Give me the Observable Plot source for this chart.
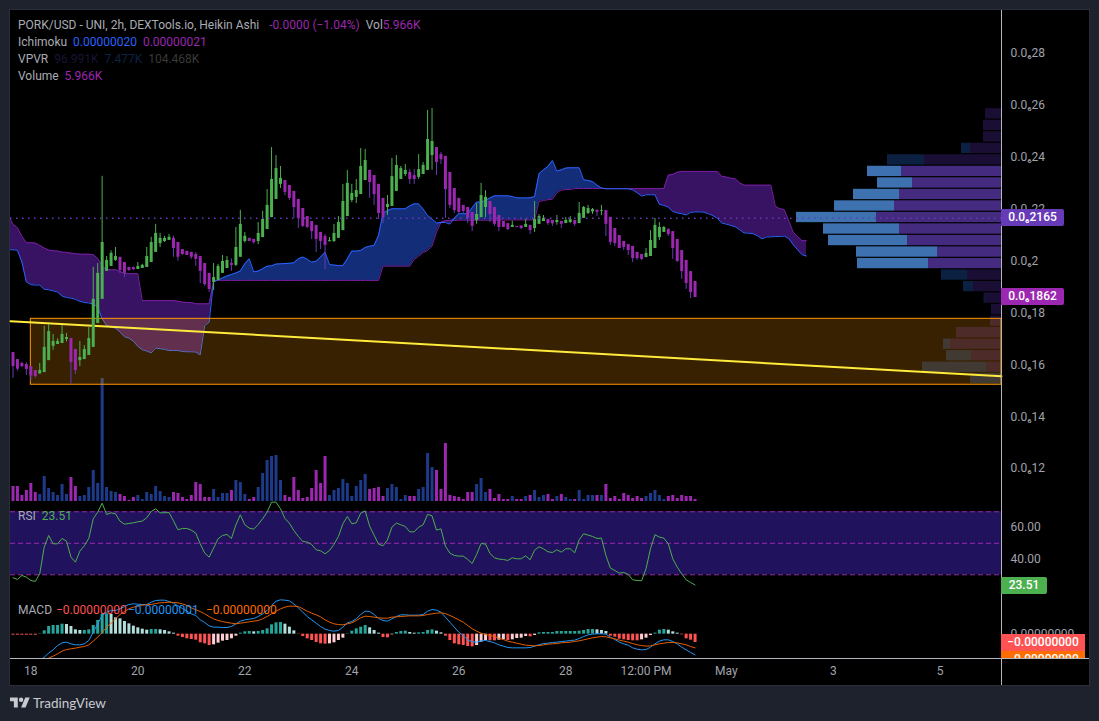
<!DOCTYPE html>
<html><head><meta charset="utf-8">
<script src="https://cdn.jsdelivr.net/npm/d3@7"></script>
<script src="https://cdn.jsdelivr.net/npm/@observablehq/plot@0.6"></script>
<style>
html,body{margin:0;background:#1e222d;width:1099px;height:721px;overflow:hidden}
#stage{position:relative;width:1099px;height:721px;font-family:Roboto,"DejaVu Sans",sans-serif;color:#a8abb4}
#pane{position:absolute;left:10px;top:10px;width:1079px;height:675px;background:#000;box-shadow:0 0 0 1px #2a2e39}
#stage svg.pl{position:absolute;left:0;top:0}
.ln{position:absolute;left:18px;font-size:12px;line-height:16px;white-space:pre}
.vline{position:absolute;left:1001px;top:10px;width:1px;height:675px;background:#b4b5bd}
.hline{position:absolute;left:10px;top:658px;width:1079px;height:1px;background:#b4b5bd}
.tag{position:absolute;left:1001px;height:17px;line-height:17px;font-size:12px;font-weight:500;color:#fff;text-align:center;border-radius:0 2px 2px 0}
#clipTags{position:absolute;left:1001px;width:84px;overflow:hidden}
#clipTags div{height:17px;line-height:17px;font-size:12px;font-weight:500;color:#fff;text-align:center}
#brand{position:absolute;left:33px;top:695px;font-family:Lato,Roboto,sans-serif;font-size:13.5px;line-height:17px;color:#c8cad0}
</style></head>
<body><div id="stage"><div id="pane"></div></div>
<script>
// Prices are in units of 0.0₆01 (1e-8 USD); bars are 2h, starting 17 Apr 16:00 UTC
const candleOpen=[
16.47,16.20,16.05,16.01,15.93,15.78,15.65,15.70,16.16,16.71,
16.78,16.82,16.97,17.01,16.59,16.16,16.20,16.36,16.67,17.59,
18.52,19.60,19.79,20.02,20.14,19.94,19.75,19.75,19.67,19.71,
19.75,19.94,20.33,20.67,20.75,20.79,20.87,20.71,20.44,20.37,
20.33,20.25,20.17,19.90,19.52,19.17,19.25,19.52,19.71,19.90,
19.83,20.14,20.75,20.87,20.83,20.75,20.90,21.21,21.67,22.37,
22.95,23.10,22.91,22.68,22.37,22.02,21.71,21.52,21.37,21.10,
20.94,20.74,20.75,20.87,21.17,21.71,22.33,22.45,22.56,23.10,
23.49,23.29,22.95,22.41,22.06,22.10,22.68,23.14,23.33,23.41,
23.29,23.22,23.33,23.49,24.06,24.37,24.10,24.03,23.41,22.79,
22.41,22.14,22.06,21.87,21.56,21.67,22.06,22.29,22.06,21.75,
21.52,21.44,21.29,21.33,21.35,21.29,21.37,21.25,21.41,21.52,
21.60,21.56,21.48,21.52,21.44,21.48,21.56,21.44,21.64,21.83,
21.89,21.94,21.91,21.94,21.68,21.25,20.98,20.75,20.63,20.56,
20.33,20.25,20.13,20.17,20.48,20.90,21.10,21.21,21.13,20.83,
20.40,20.02,19.59,19.21];
const candleClose=[
15.93,15.83,15.93,15.82,15.57,15.55,15.78,16.67,17.28,16.90,
16.90,17.17,17.05,16.09,15.78,16.28,16.59,17.01,18.52,19.52,
20.71,20.02,20.29,20.17,19.63,19.52,19.63,19.67,19.79,19.83,
20.17,20.71,21.06,20.87,20.87,20.91,20.48,20.14,20.25,20.21,
20.14,20.06,19.60,19.09,18.90,19.36,19.79,19.98,20.02,19.83,
20.52,21.41,20.95,20.75,20.70,21.06,21.60,22.14,23.14,23.56,
23.18,22.64,22.41,22.06,21.64,21.33,21.29,21.13,20.83,20.75,
20.60,20.78,21.06,21.48,22.29,22.99,22.60,22.71,23.64,23.87,
23.02,22.56,21.83,21.67,22.18,23.25,23.68,23.56,23.49,23.14,
23.14,23.52,23.68,24.68,24.60,23.79,23.90,22.75,22.14,21.94,
21.87,21.91,21.64,21.33,21.79,22.52,22.45,21.79,21.41,21.29,
21.29,21.21,21.37,21.29,21.25,21.41,21.17,21.60,21.71,21.64,
21.44,21.43,21.56,21.41,21.56,21.59,21.41,21.83,22.06,22.02,
21.98,21.87,21.94,21.41,20.71,20.67,20.48,20.52,20.40,20.09,
20.09,20.06,20.29,20.79,21.37,21.29,21.29,21.02,20.48,19.98,
19.59,19.13,18.78,18.59];
const candleHigh=[
16.47,16.20,16.10,16.08,15.93,15.78,16.05,17.48,17.55,17.17,
17.00,17.51,17.21,17.01,16.59,16.90,16.74,17.44,19.75,19.90,
23.26,20.17,20.39,20.52,20.14,19.94,19.75,19.76,19.94,19.87,
20.52,20.91,21.41,21.06,20.95,21.02,20.95,20.71,20.44,20.37,
20.33,20.33,20.17,19.90,19.52,19.90,19.87,20.21,20.17,20.08,
21.29,21.95,21.10,20.87,20.83,21.48,21.91,22.75,24.37,24.06,
23.64,23.10,22.91,22.68,22.37,22.02,21.71,21.52,21.37,21.10,
21.02,20.90,21.41,21.71,22.95,23.49,22.95,23.14,24.33,24.30,
23.49,23.29,22.95,22.41,22.52,23.95,24.06,23.64,23.72,23.52,
23.52,24.10,23.79,25.80,25.88,24.37,24.18,24.03,23.41,22.79,
22.41,22.14,22.06,21.87,22.21,22.99,22.71,22.29,22.06,21.75,
21.52,21.44,21.53,21.33,21.35,21.60,21.37,22.29,21.79,21.75,
21.60,21.56,21.75,21.52,21.67,21.71,21.56,22.25,22.10,22.14,
22.02,21.98,22.14,21.94,21.68,21.25,20.98,20.75,20.63,20.56,
20.33,20.25,20.48,21.17,21.64,21.48,21.33,21.25,21.13,20.83,
20.40,20.02,19.59,19.21];
const candleLow=[
15.48,15.75,15.88,15.59,15.37,15.48,15.63,15.70,16.16,16.56,
16.78,16.82,16.88,15.24,15.63,15.93,16.20,16.36,16.67,17.59,
18.52,19.60,19.79,19.98,19.51,19.36,19.60,19.63,19.67,19.71,
19.75,19.94,20.33,20.52,20.71,20.79,20.14,19.99,20.21,20.21,
20.06,19.79,19.13,19.02,18.79,18.86,19.25,19.52,19.71,19.60,
19.79,20.14,20.69,20.75,20.65,20.63,20.90,21.21,21.67,22.37,
22.79,22.52,22.33,21.64,21.25,21.29,21.25,20.83,20.33,20.44,
19.67,20.74,20.71,20.87,21.17,21.71,22.25,22.21,22.56,23.10,
22.41,22.14,21.60,21.44,21.75,22.10,22.68,23.14,23.25,22.95,
22.95,23.14,23.33,23.49,23.49,23.29,23.72,21.64,22.02,21.83,
21.82,21.83,21.44,21.13,21.41,21.67,21.67,21.48,21.33,21.13,
21.29,21.17,21.29,21.29,21.21,21.29,21.02,21.10,21.41,21.52,
21.37,21.33,21.38,21.25,21.44,21.44,21.33,21.44,21.64,21.79,
21.79,21.71,21.75,20.94,20.60,20.56,20.48,20.40,20.21,19.94,
20.02,20.02,20.13,20.17,20.48,20.79,21.10,20.94,20.06,19.94,
19.29,18.90,18.55,18.59];
// Volume in thousands
const volumeK=[
45,45,18,33,54,27,21,75,39,27,
18,51,21,72,45,15,18,42,93,54,
369,42,30,27,21,15,3,12,18,6,
27,21,45,30,15,12,27,24,12,6,
18,57,51,12,12,36,12,24,24,33,
63,57,21,6,12,42,84,123,135,138,
63,18,12,72,33,9,12,39,93,54,
135,18,33,39,66,54,15,45,63,81,
36,39,42,15,39,51,42,6,18,15,
15,36,42,144,102,93,36,174,18,15,
12,6,27,27,51,69,27,36,9,21,
6,6,15,6,6,15,18,33,12,18,
21,6,15,21,12,6,6,33,6,18,
18,18,18,51,9,15,6,24,18,9,
15,9,15,24,33,18,6,15,18,9,
18,15,15,5.97];
const rsiValues=[
28.10,27.04,29.58,28.52,26.41,25.77,30.64,47.57,54.97,49.68,
49.68,53.07,51.38,41.22,38.04,45.03,48.41,53.07,65.55,69.79,
75.50,68.30,69.36,68.73,64.07,62.17,62.59,63.01,63.65,64.07,
66.19,70.21,71.90,69.36,69.36,69.57,64.28,58.57,59.42,59.42,
58.36,56.45,49.68,43.76,41.22,46.93,52.86,54.97,55.61,53.07,
61.74,68.09,61.74,59.63,58.99,61.95,65.55,69.79,76.13,76.13,
71.90,65.76,62.80,58.15,54.34,51.16,50.74,49.26,45.87,45.24,
43.34,45.45,49.26,54.34,62.38,67.03,62.38,63.01,69.15,70.63,
60.90,55.19,49.47,48.41,52.22,60.26,62.80,61.74,60.69,57.30,
57.30,60.26,61.74,68.30,67.46,58.36,59.20,48.20,43.76,42.28,
41.85,41.85,39.74,37.20,42.91,49.89,49.47,43.54,40.79,39.95,
39.74,39.10,40.79,40.16,40.16,42.06,39.52,45.66,47.78,46.51,
44.60,44.18,45.87,44.39,46.51,46.51,43.97,52.22,56.03,55.19,
54.34,53.07,53.28,42.28,34.23,32.75,31.06,31.48,30.21,26.83,
26.41,26.20,33.81,46.51,55.40,53.91,53.28,49.68,40.16,34.87,
30.64,26.83,25.14,23.51];
// MACD values in units of 1e-8
const macdHist=[
-.03,-.03,-.03,-.03,-.03,-.03,.01,.10,.23,.26,
.26,.30,.29,.23,.13,.11,.11,.13,.26,.41,
.60,.61,.59,.49,.46,.38,.31,.24,.19,.15,
.12,.14,.14,.13,.11,.07,.03,-.06,-.10,-.14,
-.16,-.18,-.26,-.29,-.34,-.32,-.27,-.21,-.19,-.14,
-.06,.03,.07,.08,.07,.08,.11,.16,.28,.34,
.35,.30,.21,.10,-.01,-.07,-.14,-.19,-.25,-.29,
-.30,-.29,-.26,-.19,-.12,.01,.09,.16,.21,.26,
.19,.11,.03,-.10,-.11,-.02,.05,.08,.09,.05,
.03,.04,.05,.11,.13,.09,.04,-.06,-.19,-.29,
-.32,-.34,-.37,-.38,-.34,-.24,-.19,-.20,-.20,-.18,
-.17,-.19,-.17,-.13,-.12,-.07,-.08,-.04,.04,.05,
.05,.05,.08,.08,.08,.08,.08,.09,.11,.14,
.14,.13,.11,.08,-.06,-.09,-.15,-.17,-.19,-.20,
-.20,-.17,-.12,-.04,.03,.12,.14,.12,.07,.03,
-.02,-.14,-.18,-.25];
const macdFirstBar=6;
const macdLine=[
-.79,-.69,-.57,-.47,-.34,-.26,-.24,-.29,-.32,-.32,-.29,-.19,.06,.31,
.56,.66,.71,.71,.76,.83,.89,.91,.90,.89,.89,.96,1.01,1.02,1.02,.98,
.93,.85,.77,.69,.61,.56,.43,.35,.25,.21,.21,.20,.20,.23,.31,.39,
.43,.45,.47,.53,.61,.71,.86,.99,1.03,1.02,1.00,.91,.79,.66,.53,.43,
.33,.23,.15,.11,.09,.11,.21,.34,.38,.46,.59,.69,.68,.59,.47,.41,
.39,.46,.53,.58,.58,.57,.57,.57,.59,.69,.74,.72,.66,.51,.36,.21,
.06,-.04,-.17,-.23,-.24,-.20,-.19,-.22,-.26,-.32,-.36,-.40,-.41,-.41,-.41,-.41,
-.40,-.36,-.32,-.28,-.27,-.25,-.24,-.22,-.21,-.19,-.18,-.13,-.07,-.02,0,.01,
.01,0,-.09,-.16,-.24,-.29,-.33,-.41,-.45,-.47,-.46,-.39,-.29,-.21,-.17,-.17,
-.22,-.29,-.39,-.47,-.55,-.62];
const signalLine=[
-.85,-.79,-.72,-.66,-.59,-.51,-.46,-.44,-.42,-.39,-.37,-.32,-.21,-.09,
.05,.21,.33,.46,.59,.68,.76,.81,.84,.87,.88,.89,.92,.94,.95,.96,
.95,.94,.91,.86,.79,.73,.68,.61,.53,.46,.41,.38,.35,.33,.31,.33,
.35,.37,.39,.41,.46,.53,.61,.69,.76,.81,.84,.84,.83,.76,.69,.63,
.58,.52,.43,.36,.31,.29,.28,.31,.34,.41,.49,.54,.53,.51,.49,.48,
.48,.51,.52,.53,.54,.55,.55,.55,.56,.59,.61,.63,.64,.62,.56,.50,
.43,.36,.26,.16,.09,.03,-.01,-.04,-.07,-.12,-.16,-.21,-.24,-.27,-.30,-.33,
-.34,-.35,-.34,-.32,-.30,-.29,-.28,-.26,-.25,-.24,-.22,-.20,-.17,-.14,-.11,-.09,
-.07,-.08,-.11,-.14,-.18,-.21,-.24,-.28,-.32,-.34,-.36,-.35,-.32,-.29,-.27,-.25,
-.25,-.26,-.29,-.32,-.37,-.41];
// Ichimoku cloud, first value is bar -1, last is bar 178 (26 bars ahead)
const cloudFirstBar=-1;
const senkouA=[
20.43,
20.43,20.41,19.96,19.19,19.09,19.07,19.07,18.91,18.89,18.85,
18.80,18.65,18.59,18.57,18.52,18.44,18.40,18.38,18.34,18.22,
17.77,17.51,17.45,17.41,17.26,17.08,17.03,16.91,16.71,16.58,
16.53,16.46,16.64,16.62,16.59,16.55,16.55,16.55,16.51,16.50,
16.50,16.49,16.38,17.51,17.64,19.22,19.26,19.35,19.42,19.48,
19.54,19.61,19.89,20.08,19.58,19.61,19.70,19.80,19.81,19.88,
19.89,19.90,19.91,19.93,20.08,20.15,20.07,19.95,19.99,20.15,
20.34,19.86,19.84,19.82,19.82,20.08,20.38,20.38,20.40,20.52,
20.57,20.60,20.98,21.84,21.94,22.01,22.01,22.01,22.01,22.12,
22.20,22.20,22.00,21.75,21.62,21.46,21.48,21.48,21.42,21.65,
21.82,21.82,21.82,22.05,22.27,22.27,22.33,22.43,22.51,22.51,
22.51,22.51,22.48,22.43,22.43,22.43,22.43,22.48,23.36,23.51,
23.64,23.87,23.46,23.51,23.58,23.59,23.59,23.59,23.13,23.10,
23.06,22.92,22.81,22.78,22.78,22.78,22.78,22.78,22.78,22.74,
22.63,22.50,22.55,22.55,22.55,22.18,22.14,22.07,21.91,21.85,
21.82,21.77,21.87,21.89,21.89,21.88,21.82,21.75,21.64,21.46,
21.42,21.37,21.32,21.20,21.08,21.07,21.05,20.97,20.85,20.92,
20.93,20.94,20.94,20.96,20.87,20.63,20.43,20.24,20.19];
const senkouB=[
21.75,
21.41,21.28,20.95,20.70,20.70,20.69,20.60,20.50,20.42,20.39,
20.38,20.34,20.33,20.30,20.28,20.26,20.26,20.26,20.24,20.10,
19.80,19.67,19.66,19.66,19.60,19.51,19.51,19.51,19.51,18.47,
18.47,18.47,18.47,18.47,18.47,18.47,18.47,18.45,18.41,18.40,
18.40,18.35,18.35,18.35,18.35,19.22,19.25,19.25,19.25,19.25,
19.25,19.25,19.25,19.25,19.25,19.25,19.25,19.25,19.25,19.25,
19.25,19.25,19.25,19.25,19.25,19.25,19.25,19.25,19.25,19.25,
19.25,19.25,19.25,19.25,19.25,19.25,19.25,19.25,19.25,19.25,
19.25,19.25,19.25,19.80,19.80,19.80,19.80,19.80,19.80,19.80,
20.06,20.18,20.33,20.40,20.58,21.11,21.49,21.56,21.56,21.56,
21.57,21.57,21.57,21.57,21.57,21.57,21.57,21.57,21.57,21.57,
21.58,21.58,21.58,21.58,21.58,21.58,21.58,21.58,22.29,22.33,
22.36,22.38,22.63,22.73,22.75,22.75,22.79,22.79,22.79,22.79,
22.79,22.79,22.79,22.79,22.79,22.79,22.79,22.79,22.79,22.79,
22.79,22.79,22.79,22.79,22.79,22.79,22.79,23.31,23.33,23.42,
23.45,23.45,23.45,23.45,23.45,23.45,23.45,23.45,23.45,23.26,
23.23,23.19,23.17,23.01,22.92,22.92,22.92,22.92,22.92,22.92,
22.92,22.11,22.01,21.98,21.56,21.11,20.94,20.78,20.78];
// Volume profile rows, top to bottom, thousands
const vpvrTop=25.89, vpvrBottom=15.24;
const vpvrDown=[96,108,108,186,462,600,534,612,642,750,612,564,384,438,204,168,97,60,66,270,306,180,90,0];
const vpvrUp=[0,0,0,54,222,204,210,276,360,480,456,474,486,426,156,60,7.5,0,0,0,42,150,384,186];
const valueAreaRows=[5,6,7,8,9,10,11,12,13];
const lastPrice=18.62, markPrice=21.65, zoneTop=17.77, zoneBottom=15.23;
const trendStart=17.68, trendEnd=15.56;
const priceTicks=[12,14,16,18,20,22,24,26,28];
const rsiTicks=[20,40,60], rsiBands=[70,50,30];
const timeLabels=["18","20","22","24","26","28","12:00 PM","May","3","5"];
const timeTicks=[Date.UTC(2024,3,18),Date.UTC(2024,3,20),Date.UTC(2024,3,22),Date.UTC(2024,3,24),Date.UTC(2024,3,26),Date.UTC(2024,3,28),Date.UTC(2024,3,29,12),Date.UTC(2024,4,1),Date.UTC(2024,4,3),Date.UTC(2024,4,5)].map(d=>new Date(d));

const barTime=i=>new Date(Date.UTC(2024,3,17,16)+i*7200e3);
const xDomain=[barTime(-0.56),barTime(221.74)];
const bars=candleOpen.map((o,i)=>({t:barTime(i),open:o,close:candleClose[i],high:candleHigh[i],low:candleLow[i],vol:volumeK[i],rsi:rsiValues[i],hist:macdHist[i],up:candleClose[i]>=o}));
const up=bars.filter(d=>d.up), down=bars.filter(d=>!d.up);
const cloud=senkouA.map((a,k)=>({t:barTime(k+cloudFirstBar),a,b:senkouB[k]}));
const macdRows=macdLine.map((m,k)=>({t:barTime(k+macdFirstBar),m,s:signalLine[k]}));
const histColor=(d,i)=>{const prev=i?macdHist[i-1]:0;return d.hist>=0?(d.hist>=prev?"#26a69a":"#b2dfdb"):(d.hist<=prev?"#ff5252":"#ffcdd2");};
const histRows=bars.map((d,i)=>({...d,color:histColor(d,i)}));
const rowSize=(vpvrTop-vpvrBottom)/vpvrDown.length;
const vpvrRows=vpvrDown.map((dn,k)=>({dn,up:vpvrUp[k],hi:vpvrTop-rowSize*k,lo:vpvrTop-rowSize*(k+1),va:valueAreaRows.includes(k)}));

const AXIS="#a0a3ac";
const base=o=>{const s=Plot.plot({width:1099,height:721,marginLeft:10,marginRight:98,
  style:{background:"transparent",fontFamily:'Roboto,"DejaVu Sans",sans-serif',fontSize:"12px"},
  color:{type:"identity"},...o});s.classList.add("pl");return s;};
const X={type:"utc",domain:xDomain,axis:null};
const priceY={domain:[10.77,29.65],axis:null};
const priceMargins={marginTop:10,marginBottom:221};

const vpvrPlot=base({...priceMargins,x:{domain:[5946,0],axis:null},y:priceY,marks:[
  Plot.rectX(vpvrRows,{x1:0,x2:"dn",y1:"lo",y2:"hi",fill:d=>d.va?"#452b80":"#1a0e34",insetTop:.6,insetBottom:.6}),
  Plot.rectX(vpvrRows,{x1:"dn",x2:d=>d.dn+d.up,y1:"lo",y2:"hi",fill:d=>d.va?"#3e71af":"#0c2142",insetTop:.6,insetBottom:.6})
]});
const volumePlot=base({marginTop:378,marginBottom:220,x:X,y:{domain:[0,369],axis:null},marks:[
  Plot.ruleX(bars,{x:"t",y1:0,y2:"vol",stroke:d=>d.up?"#1e3a8a":"#9c27b0",strokeWidth:3})
]});
const mainPlot=base({...priceMargins,x:X,y:priceY,marks:[
  Plot.areaY(cloud,{x:"t",y1:"a",y2:d=>Math.max(d.a,d.b),fill:"#381364",clip:true}),
  Plot.areaY(cloud,{x:"t",y1:"b",y2:d=>Math.max(d.a,d.b),fill:"#142d78",clip:true}),
  Plot.line(cloud,{x:"t",y:"b",stroke:"#7b1fa2",strokeWidth:1,clip:true}),
  Plot.line(cloud,{x:"t",y:"a",stroke:"#2962ff",strokeWidth:1,clip:true}),
  Plot.rect([{x1:barTime(4),x2:xDomain[1],y1:zoneBottom,y2:zoneTop}],{x1:"x1",x2:"x2",y1:"y1",y2:"y2",fill:"#ff9800",fillOpacity:.22,stroke:"#ff9800",strokeWidth:1}),
  Plot.line([{t:xDomain[0],p:trendStart},{t:xDomain[1],p:trendEnd}],{x:"t",y:"p",stroke:"#ffeb3b",strokeWidth:2}),
  Plot.ruleX(up,{x:"t",y1:"low",y2:"high",stroke:"#4caf50",strokeWidth:1}),
  Plot.ruleX(down,{x:"t",y1:"low",y2:"high",stroke:"#673ab7",strokeWidth:1}),
  Plot.ruleX(up,{x:"t",y1:"open",y2:"close",stroke:"#4caf50",strokeWidth:3}),
  Plot.ruleX(down,{x:"t",y1:"open",y2:"close",stroke:"#9c27b0",strokeWidth:3}),
  Plot.ruleY([markPrice],{stroke:"#673ab7",strokeWidth:1.5,strokeDasharray:"1.5,4.5"}),
  Plot.axisY({anchor:"right",label:null,ticks:priceTicks,tickSize:0,tickPadding:9,color:AXIS,tickFormat:d=>"0.0₆"+String(d).replace(/0$/,"")})
]});
const rsiPlot=base({marginTop:500,marginBottom:131,x:X,y:{domain:[20.03,77.17],axis:null},marks:[
  Plot.rectY([{a:rsiBands[2],b:rsiBands[0]}],{x1:xDomain[0],x2:xDomain[1],y1:"a",y2:"b",fill:"#20125c"}),
  Plot.ruleY(rsiBands,{stroke:"#9c27b0",strokeWidth:1,strokeDasharray:"5,3"}),
  Plot.line(bars,{x:"t",y:"rsi",stroke:"#4caf50",strokeWidth:1,clip:true}),
  Plot.axisY({anchor:"right",label:null,ticks:rsiTicks,tickSize:0,tickPadding:9,color:AXIS,tickFormat:d=>d.toFixed(2)})
]});
const macdPlot=base({marginTop:590,marginBottom:63,x:X,y:{domain:[-.73,1.31],axis:null},marks:[
  Plot.ruleX(histRows,{x:"t",y1:0,y2:"hist",stroke:"color",strokeWidth:3}),
  Plot.line(macdRows,{x:"t",y:"m",stroke:"#2196f3",strokeWidth:1,clip:true}),
  Plot.line(macdRows,{x:"t",y:"s",stroke:"#e65f00",strokeWidth:1,clip:true}),
  Plot.axisY({anchor:"right",label:null,ticks:[0],tickSize:0,tickPadding:9,color:AXIS,tickFormat:()=>"0.00000000"}),
  Plot.axisX({anchor:"bottom",label:null,ticks:timeTicks,tickSize:0,tickPadding:8,color:AXIS,tickFormat:d=>timeLabels[timeTicks.findIndex(t=>+t===+d)]})
]});

const stage=document.getElementById("stage");
const add=(html)=>{const t=document.createElement("template");t.innerHTML=html.trim();const n=t.content.firstChild;stage.appendChild(n);return n;};
stage.append(vpvrPlot,volumePlot,mainPlot,rsiPlot,macdPlot);
add('<div class="vline"></div>');add('<div class="hline"></div>');

const py=v=>mainPlot.scale("y").apply(v);
const tag=(v,yf,w,bg,txt)=>{const n=add(`<div class="tag" style="top:${yf(v)-8.5}px;width:${w}px;background:${bg}">${txt}</div>`);return n;};
tag(markPrice,py,63,"#673ab7","0.0₆2165");
tag(lastPrice,py,63,"#9c27b0","0.0₆1862");
tag(rsiValues[rsiValues.length-1],v=>rsiPlot.scale("y").apply(v)+1,46,"#4caf50","23.51");
const my=macdPlot.scale("y").apply(macdHist[macdHist.length-1]);
add(`<div id="clipTags" style="top:${my-8.5}px;height:${658-(my-8.5)}px"><div style="background:#ff5252">−0.00000000</div><div style="background:#ff6d00">−0.00000000</div></div>`);

const P='style="color:#9c27b0"';
add(`<div class="ln" style="top:17px">PORK/USD - UNI, 2h, DEXTools.io, Heikin Ashi  <span style="color:#9c27b0;margin-left:4px">-0.0000 (−1.04%)</span>  Vol<span ${P}>5.966K</span></div>`);
add(`<div class="ln" style="top:34px">Ichimoku  <span style="color:#2962ff">0.00000020</span>  <span ${P}>0.00000021</span></div>`);
add(`<div class="ln" style="top:51px">VPVR  <span style="color:#1a1436">96.991K</span>  <span style="color:#0e2244">7.477K</span>  <span style="color:#3a3a3a">104.468K</span></div>`);
add(`<div class="ln" style="top:68px">Volume  <span ${P}>5.966K</span></div>`);
add(`<div class="ln" style="top:508px">RSI  <span style="color:#4caf50">23.51</span></div>`);
add(`<div class="ln" style="top:602px">MACD<span style="position:absolute;left:38px;color:#ff5252">−0.00000000</span><span style="position:absolute;left:110px;color:#2196f3">−0.00000001</span><span style="position:absolute;left:188px;color:#ff6d00">−0.00000000</span></div>`);
add(`<svg style="position:absolute;left:10px;top:695px" width="20" height="16" viewBox="0 0 36 28" fill="#c8cad0"><path d="M14 22H7V11H0V4h14v18zM28 22h-8l7.5-18h8L28 22z"/><circle cx="20" cy="8" r="4"/></svg>`);
add(`<div id="brand">TradingView</div>`);
</script></body></html>
